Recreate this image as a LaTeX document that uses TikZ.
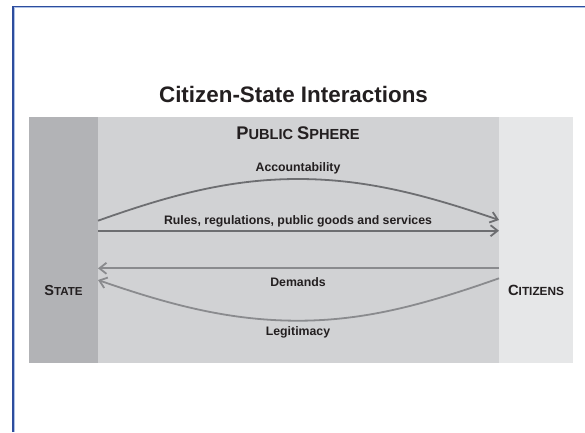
\documentclass[tikz,border=0pt]{standalone}
\usepackage{fontspec}
\setmainfont{Liberation Sans}
\usetikzlibrary{arrows.meta}
\definecolor{stategray}{HTML}{B2B3B6}
\definecolor{spheregray}{HTML}{D1D2D4}
\definecolor{citizgray}{HTML}{E6E7E8}
\definecolor{txt}{HTML}{231F20}
\definecolor{darkarrow}{HTML}{6D6E71}
\definecolor{lightarrow}{HTML}{8A8B8E}
\definecolor{framedark}{HTML}{2D4D9E}
\definecolor{framelight}{HTML}{AFC2E6}
\newcommand{\mysc}[4]{{\fontsize{#3}{#3}\selectfont #1}{\fontsize{#4}{#4}\selectfont #2}}
\tikzset{
  band/.style={draw=none, inner sep=0pt, outer sep=0pt},
  lbl/.style={anchor=base, inner sep=0pt, text=txt, font=\bfseries\fontsize{12.3}{12.3}\selectfont},
  darkarr/.style={draw=darkarrow, line width=1.8pt, -{Straight Barb[length=7pt,width=11pt]}},
  lightarr/.style={draw=lightarrow, line width=1.8pt, -{Straight Barb[length=7pt,width=11pt]}},
}
\begin{document}
\begin{tikzpicture}[x=1pt,y=-1pt]
\useasboundingbox (0,0) rectangle (585,432);
% frame
\draw[framelight, line width=1.2pt] (14.3,432) -- (14.3,7.8) -- (585,7.8);
\draw[framedark, line width=1.4pt] (13,432) -- (13,6.7) -- (585,6.7);
% bands
\node[band, fill=stategray, minimum width=69pt, minimum height=246pt] (state) at (63.5,240) {};
\node[band, fill=spheregray, minimum width=401pt, minimum height=246pt] (sphere) at (298.5,240) {};
\node[band, fill=citizgray, minimum width=74pt, minimum height=246pt] (citizens) at (536,240) {};
% title and headings
\node[anchor=base, inner sep=0pt, text=txt, font=\bfseries\fontsize{22.4}{22.4}\selectfont] (title) at (293.5,102) {Citizen-State Interactions};
\node[anchor=base, inner sep=0pt, text=txt, font=\bfseries] (spherelabel) at (298,139.5) {\mysc{P}{UBLIC }{18.3}{14.6}\mysc{S}{PHERE}{18.3}{14.6}};
\node[anchor=base, inner sep=0pt, text=txt, font=\bfseries] (statelabel) at (63.5,295.7) {\mysc{S}{TATE}{14.5}{11.6}};
\node[anchor=base, inner sep=0pt, text=txt, font=\bfseries] (citizlabel) at (536,295.7) {\mysc{C}{ITIZENS}{14.8}{11.8}};
% connectors
\coordinate (a1s) at (state.east |- 0,220.7);
\coordinate (a1e) at (citizens.west |- 0,220);
\coordinate (a2s) at (state.east |- 0,230.7);
\coordinate (a2e) at (citizens.west |- 0,230.7);
\coordinate (a3s) at (citizens.west |- 0,268.3);
\coordinate (a3e) at (state.east |- 0,268.3);
\coordinate (a4s) at (citizens.west |- 0,278.3);
\coordinate (a4e) at (state.east |- 0,280);
\coordinate (a1m) at (298,179);
\coordinate (a4m) at (298,320.7);
\draw[darkarr] (a1s) .. controls (170,195) and (230,179) .. (a1m) .. controls (366,179) and (426,195) .. (a1e);
\draw[darkarr] (a2s) -- (a2e);
\draw[lightarr] (a3s) -- (a3e);
\draw[lightarr] (a4s) .. controls (426,304) and (366,320.7) .. (a4m) .. controls (230,320.7) and (170,305) .. (a4e);
% labels
\node[lbl] (acc) at (298,171.7) {Accountability};
\node[lbl] (rules) at (298,224.8) {Rules, regulations, public goods and services};
\node[lbl] (dem) at (298,286.7) {Demands};
\node[lbl] (leg) at (298,335.7) {Legitimacy};
\end{tikzpicture}
\end{document}
